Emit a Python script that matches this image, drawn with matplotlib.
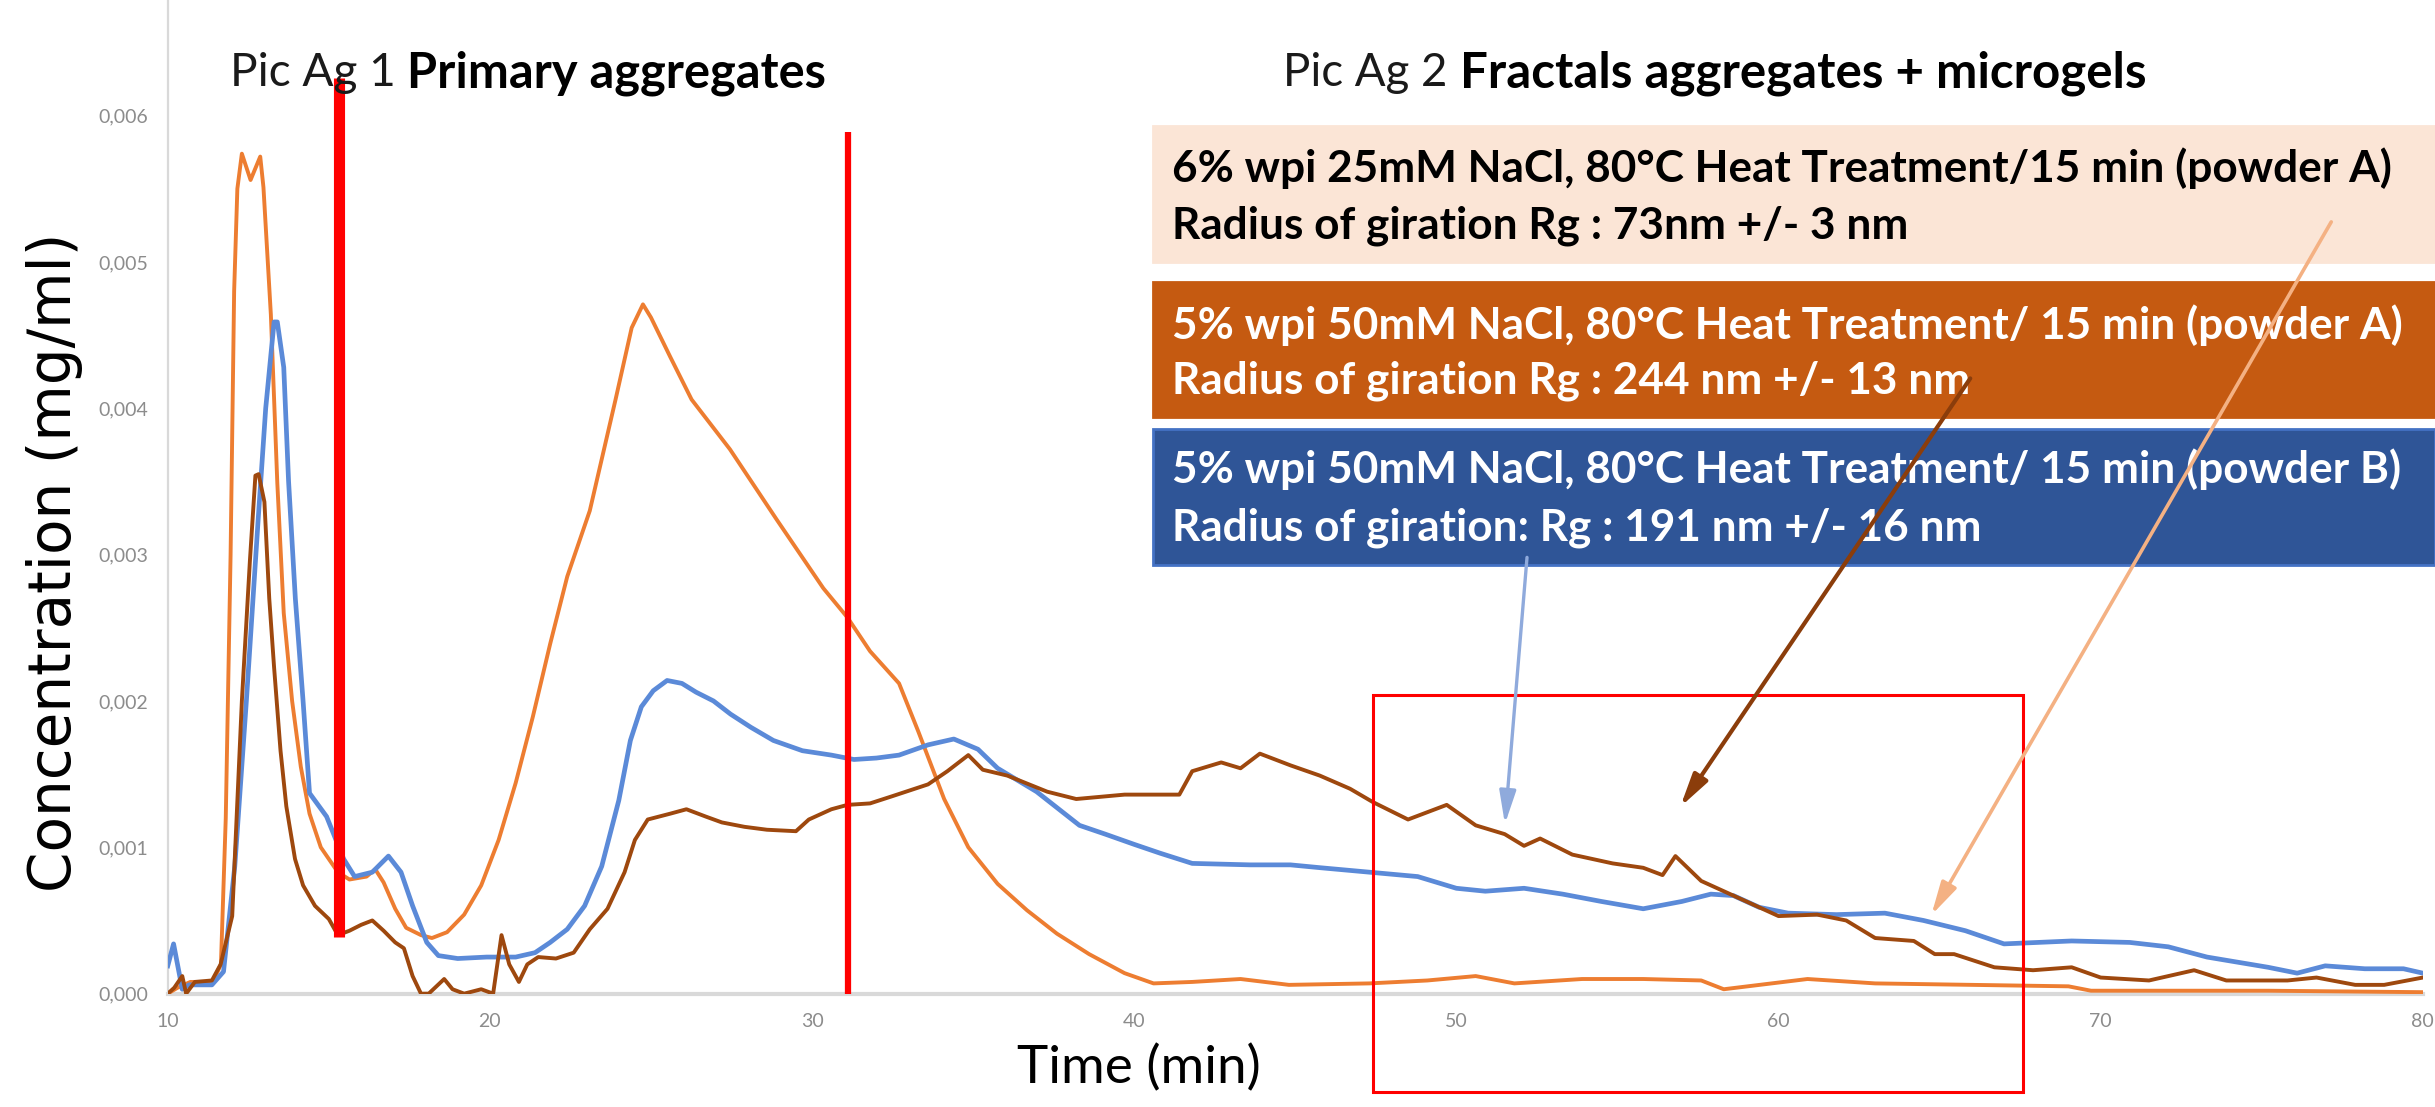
import matplotlib
matplotlib.use("Agg")
import matplotlib.pyplot as plt
from matplotlib.patches import Rectangle
from matplotlib.ticker import FuncFormatter

# values (time in min, concentration in mg/ml)
orange_t = [10.0, 10.3, 10.7, 11.4, 11.65, 11.8, 11.95, 12.06, 12.16, 12.3, 12.57, 12.87, 12.97, 13.2,
            13.4, 13.6, 13.86, 14.13, 14.4, 14.75, 15.28, 15.64, 16.17, 16.44, 16.7, 17.06, 17.4, 17.86,
            18.2, 18.67, 19.2, 19.73, 20.27, 20.8, 21.33, 21.87, 22.4, 23.1, 23.9, 24.4, 24.75, 25.0,
            25.6, 26.26, 27.45, 28.9, 30.35, 31.1, 31.8, 32.7, 33.3, 34.1, 34.85, 35.76, 36.67, 37.6,
            38.6, 39.7, 40.6, 41.8, 43.3, 44.8, 47.3, 49.1, 50.6, 51.8, 53.9, 55.8, 57.6, 58.3, 60.9,
            63.0, 66.0, 69.0, 69.7, 72.1, 75.2, 80.0]
orange_c = [0.0, 0.00004, 0.00008, 0.00008, 0.0002, 0.0012, 0.0030, 0.0048, 0.0055, 0.00574, 0.00556,
            0.00572, 0.00551, 0.00464, 0.00349, 0.0026, 0.002, 0.00155, 0.00123, 0.001, 0.00083, 0.00078,
            0.0008, 0.00085, 0.00076, 0.00058, 0.00045, 0.0004, 0.00038, 0.00042, 0.00054, 0.00074,
            0.00105, 0.00144, 0.00189, 0.00239, 0.00285, 0.0033, 0.00406, 0.00455, 0.00471, 0.00462,
            0.00435, 0.00406, 0.00372, 0.00324, 0.00277, 0.00257, 0.00234, 0.00212, 0.00179, 0.00133,
            0.001, 0.00075, 0.00057, 0.00041, 0.00027, 0.00014, 0.00007, 0.00008, 0.0001, 0.00006,
            0.00007, 0.00009, 0.00012, 0.00007, 0.0001, 0.0001, 0.00009, 0.00003, 0.0001, 0.00007,
            0.00006, 0.00005, 0.00002, 0.00002, 0.00002, 0.00001]

blue_t = [10.0, 10.18, 10.45, 10.66, 11.37, 11.73, 12.08, 12.44, 12.8, 13.04, 13.3, 13.4, 13.6, 13.75,
          13.96, 14.2, 14.4, 14.93, 15.46, 15.8, 16.35, 16.85, 17.24, 17.6, 18.04, 18.4, 19.0, 19.9,
          20.8, 21.4, 21.87, 22.4, 22.94, 23.47, 24.0, 24.36, 24.7, 25.07, 25.5, 25.96, 26.4, 26.94,
          27.47, 28.1, 28.8, 29.7, 30.6, 31.3, 32.0, 32.7, 33.6, 34.4, 35.15, 35.76, 36.97, 38.3, 39.1,
          40.0, 40.8, 41.8, 43.6, 44.85, 45.8, 47.3, 48.8, 50.0, 50.9, 52.1, 53.3, 54.5, 55.8, 57.0,
          57.9, 58.6, 59.4, 60.3, 61.8, 63.3, 64.5, 65.8, 67.0, 69.1, 70.9, 72.1, 73.3, 75.2, 76.1,
          76.97, 78.2, 79.4, 80.0]
blue_c = [0.00019, 0.00034, 0.00003, 0.00006, 0.00006, 0.00015, 0.00087, 0.002, 0.00322, 0.004, 0.00459,
          0.00459, 0.00428, 0.0035, 0.0027, 0.002, 0.00137, 0.00121, 0.00092, 0.0008, 0.00083, 0.00094,
          0.00083, 0.0006, 0.00035, 0.00026, 0.00024, 0.00025, 0.00025, 0.00028, 0.00035, 0.00044,
          0.0006, 0.00087, 0.00132, 0.00173, 0.00196, 0.00207, 0.00214, 0.00212, 0.00206, 0.002,
          0.00191, 0.00182, 0.00173, 0.00166, 0.00163, 0.0016, 0.00161, 0.00163, 0.0017, 0.00174,
          0.00167, 0.00154, 0.00138, 0.00115, 0.00109, 0.00102, 0.00096, 0.00089, 0.00088, 0.00088,
          0.00086, 0.00083, 0.0008, 0.00072, 0.0007, 0.00072, 0.00068, 0.00063, 0.00058, 0.00063,
          0.00068, 0.00067, 0.00059, 0.00055, 0.00054, 0.00055, 0.0005, 0.00043, 0.00034, 0.00036,
          0.00035, 0.00032, 0.00025, 0.00018, 0.00014, 0.00019, 0.00017, 0.00017, 0.00014]

brown_t = [10.0, 10.2, 10.45, 10.57, 10.84, 11.37, 11.64, 12.0, 12.3, 12.55, 12.72, 12.82, 13.0, 13.15,
           13.3, 13.5, 13.68, 13.95, 14.2, 14.57, 15.0, 15.28, 15.64, 16.0, 16.35, 16.7, 17.06, 17.33,
           17.6, 17.86, 18.1, 18.58, 18.84, 19.2, 19.73, 20.1, 20.36, 20.6, 20.9, 21.16, 21.5, 22.05,
           22.6, 23.1, 23.65, 24.18, 24.5, 24.9, 25.6, 26.1, 26.7, 27.2, 27.9, 28.6, 29.5, 29.9, 30.6,
           31.1, 31.8, 32.5, 33.6, 34.2, 34.85, 35.3, 36.06, 37.3, 38.2, 39.7, 41.4, 41.8, 42.7, 43.3,
           43.9, 44.85, 45.76, 46.7, 47.4, 48.5, 49.1, 49.7, 50.6, 51.5, 52.1, 52.6, 53.6, 54.85, 55.8,
           56.4, 56.8, 57.6, 58.5, 59.4, 60.0, 61.2, 62.1, 63.0, 64.2, 64.85, 65.45, 66.7, 67.9, 69.1,
           70.0, 71.5, 72.9, 73.9, 75.8, 76.7, 77.9, 78.8, 80.0]
brown_c = [0.0, 0.00004, 0.00012, 0.0, 0.00008, 0.00009, 0.0002, 0.00053, 0.002, 0.00296, 0.00354,
           0.00355, 0.00336, 0.0027, 0.00223, 0.00166, 0.00128, 0.00092, 0.00074, 0.0006, 0.00051,
           0.0004, 0.00043, 0.00047, 0.0005, 0.00043, 0.00035, 0.00031, 0.00012, 0.0, 0.0, 0.0001,
           0.00003, 0.0, 0.00003, 0.0, 0.0004, 0.0002, 0.00008, 0.0002, 0.00025, 0.00024, 0.00028,
           0.00044, 0.00058, 0.00083, 0.00105, 0.00119, 0.00123, 0.00126, 0.00121, 0.00117, 0.00114,
           0.00112, 0.00111, 0.00119, 0.00126, 0.00129, 0.0013, 0.00135, 0.00143, 0.00152, 0.00163,
           0.00153, 0.00149, 0.00138, 0.00133, 0.00136, 0.00136, 0.00152, 0.00158, 0.00154, 0.00164,
           0.00156, 0.00149, 0.0014, 0.00131, 0.00119, 0.00124, 0.00129, 0.00115, 0.00109, 0.00101,
           0.00106, 0.00095, 0.00089, 0.00086, 0.00081, 0.00094, 0.00077, 0.00068, 0.00059, 0.00053,
           0.00054, 0.0005, 0.00038, 0.00036, 0.00027, 0.00027, 0.00018, 0.00016, 0.00018, 0.00011,
           0.00009, 0.00016, 0.00009, 0.00009, 0.00011, 0.00006, 0.00006, 0.00011]

x_ticks = [10, 20, 30, 40, 50, 60, 70, 80]
y_ticks = [0.0, 0.001, 0.002, 0.003, 0.004, 0.005, 0.006]

box_lines = [
    ("6% wpi 25mM NaCl, 80°C Heat Treatment/15 min (powder A)",
     "Radius of giration Rg : 73nm +/- 3 nm"),
    ("5% wpi 50mM NaCl, 80°C Heat Treatment/ 15 min (powder A)",
     "Radius of giration Rg : 244 nm +/- 13 nm"),
    ("5% wpi 50mM NaCl, 80°C Heat Treatment/ 15 min (powder B)",
     "Radius of giration: Rg : 191 nm +/- 16 nm"),
]

NARROW = ["Liberation Sans Narrow", "Lato", "DejaVu Sans"]
plt.rcParams["font.family"] = NARROW

fig = plt.figure(figsize=(24.35, 11.07), dpi=100)
ax = fig.add_axes([0.0689, 0.1024, 0.9261, 0.8976])
renderer = fig.canvas.get_renderer()
ft = fig.transFigure


def fit_width(txt, width_px):
    w = txt.get_window_extent(renderer).width
    txt.set_fontsize(txt.get_fontsize() * width_px / w)
    return txt


ax.plot(orange_t, orange_c, color="#ED7D31", lw=2.8, zorder=3)
ax.plot(blue_t, blue_c, color="#5B8AD8", lw=3.4, zorder=3)
ax.plot(brown_t, brown_c, color="#9E480E", lw=2.8, zorder=3)

# separation markers
ax.plot([15.3, 15.3], [0.00039, 0.00626], color="#FF0000", lw=8, solid_capstyle="butt", zorder=5)
ax.plot([31.1, 31.1], [0.0, 0.00589], color="#FF0000", lw=4.5, solid_capstyle="butt", zorder=5)
ax.add_patch(Rectangle((47.4, -0.00067), 20.2, 0.00271, fill=False, edgecolor="#FF0000",
                       lw=2.2, clip_on=False, zorder=6))

ax.set_xlim(10, 80)
ax.set_ylim(0, 0.00679)
ax.set_xticks(x_ticks)
ax.set_yticks(y_ticks)
ax.yaxis.set_major_formatter(FuncFormatter(lambda v, p: f"{v:.3f}".replace(".", ",")))
ax.tick_params(length=0, colors="#8C8C8C", labelsize=14, pad=14)
for s in ["top", "right"]:
    ax.spines[s].set_visible(False)
ax.spines["left"].set_color("#D9D9D9")
ax.spines["left"].set_linewidth(1.6)
ax.spines["bottom"].set_color("#D9D9D9")
ax.spines["bottom"].set_linewidth(3)

# axis titles
ylab = fig.text(0.0223, 0.492, "Concentration (mg/ml)", rotation=90, ha="center", va="center",
                fontsize=36, family="DejaVu Sans", color="black")
h = ylab.get_window_extent(renderer).height
ylab.set_fontsize(36 * 660 / h)
fit_width(fig.text(0.4677, 0.035, "Time (min)", ha="center", va="center", fontsize=30), 244)

# peak titles
fit_width(fig.text(0.0944, 0.934, "Pic Ag 1", ha="left", va="center", fontsize=28, color="#1A1A1A"), 166)
fit_width(fig.text(0.1671, 0.934, "Primary aggregates", ha="left", va="center", fontsize=28,
                   fontweight="bold"), 419)
fit_width(fig.text(0.5268, 0.934, "Pic Ag 2", ha="left", va="center", fontsize=28, color="#1A1A1A"), 165)
fit_width(fig.text(0.5995, 0.934, "Fractals aggregates + microgels", ha="left", va="center",
                   fontsize=28, fontweight="bold"), 686)

# sample boxes (kept in the axes so the arrows can sit on top of them)
box_y = [(0.7633, 0.8862), (0.6233, 0.7453), (0.4896, 0.6125)]
box_face = ["#FBE5D6", "#C55A11", "#2F5597"]
box_edge = ["#FBE5D6", "#C55A11", "#4472C4"]
box_text = ["black", "white", "white"]
line_y = [(0.8482, 0.7958), (0.7064, 0.6558), (0.5763, 0.5230)]

first = fig.text(0.4815, line_y[0][0], box_lines[0][0], fontsize=28, fontweight="bold")
fit_width(first, 1222)
box_fs = first.get_fontsize()
first.remove()

for i in range(3):
    y0, y1 = box_y[i]
    ax.add_patch(Rectangle((0.4735, y0), 0.5265, y1 - y0, transform=ft, clip_on=False,
                           facecolor=box_face[i], edgecolor=box_edge[i], lw=2, zorder=7))
    for j in range(2):
        ax.text(0.4815, line_y[i][j], box_lines[i][j], transform=ft, clip_on=False,
                ha="left", va="center", fontsize=box_fs, fontweight="bold",
                color=box_text[i], zorder=8)

# arrows from the boxes to the curves
arrow_style = "-|>,head_length=1.0,head_width=0.25"
ax.annotate("", xy=(51.5, 0.00114), xytext=(52.2, 0.0030), annotation_clip=False,
            arrowprops=dict(arrowstyle=arrow_style, color="#8FAADC", lw=2.4, mutation_scale=20),
            zorder=9)
ax.annotate("", xy=(56.9, 0.00126), xytext=(66.0, 0.00422), annotation_clip=False,
            arrowprops=dict(arrowstyle=arrow_style, color="#8B3D0B", lw=3, mutation_scale=20),
            zorder=9)
ax.annotate("", xy=(64.7, 0.00052), xytext=(77.2, 0.00529), annotation_clip=False,
            arrowprops=dict(arrowstyle=arrow_style, color="#F4B183", lw=2.6, mutation_scale=20),
            zorder=9)

fig.savefig("out.png", dpi=100)
plt.close(fig)
